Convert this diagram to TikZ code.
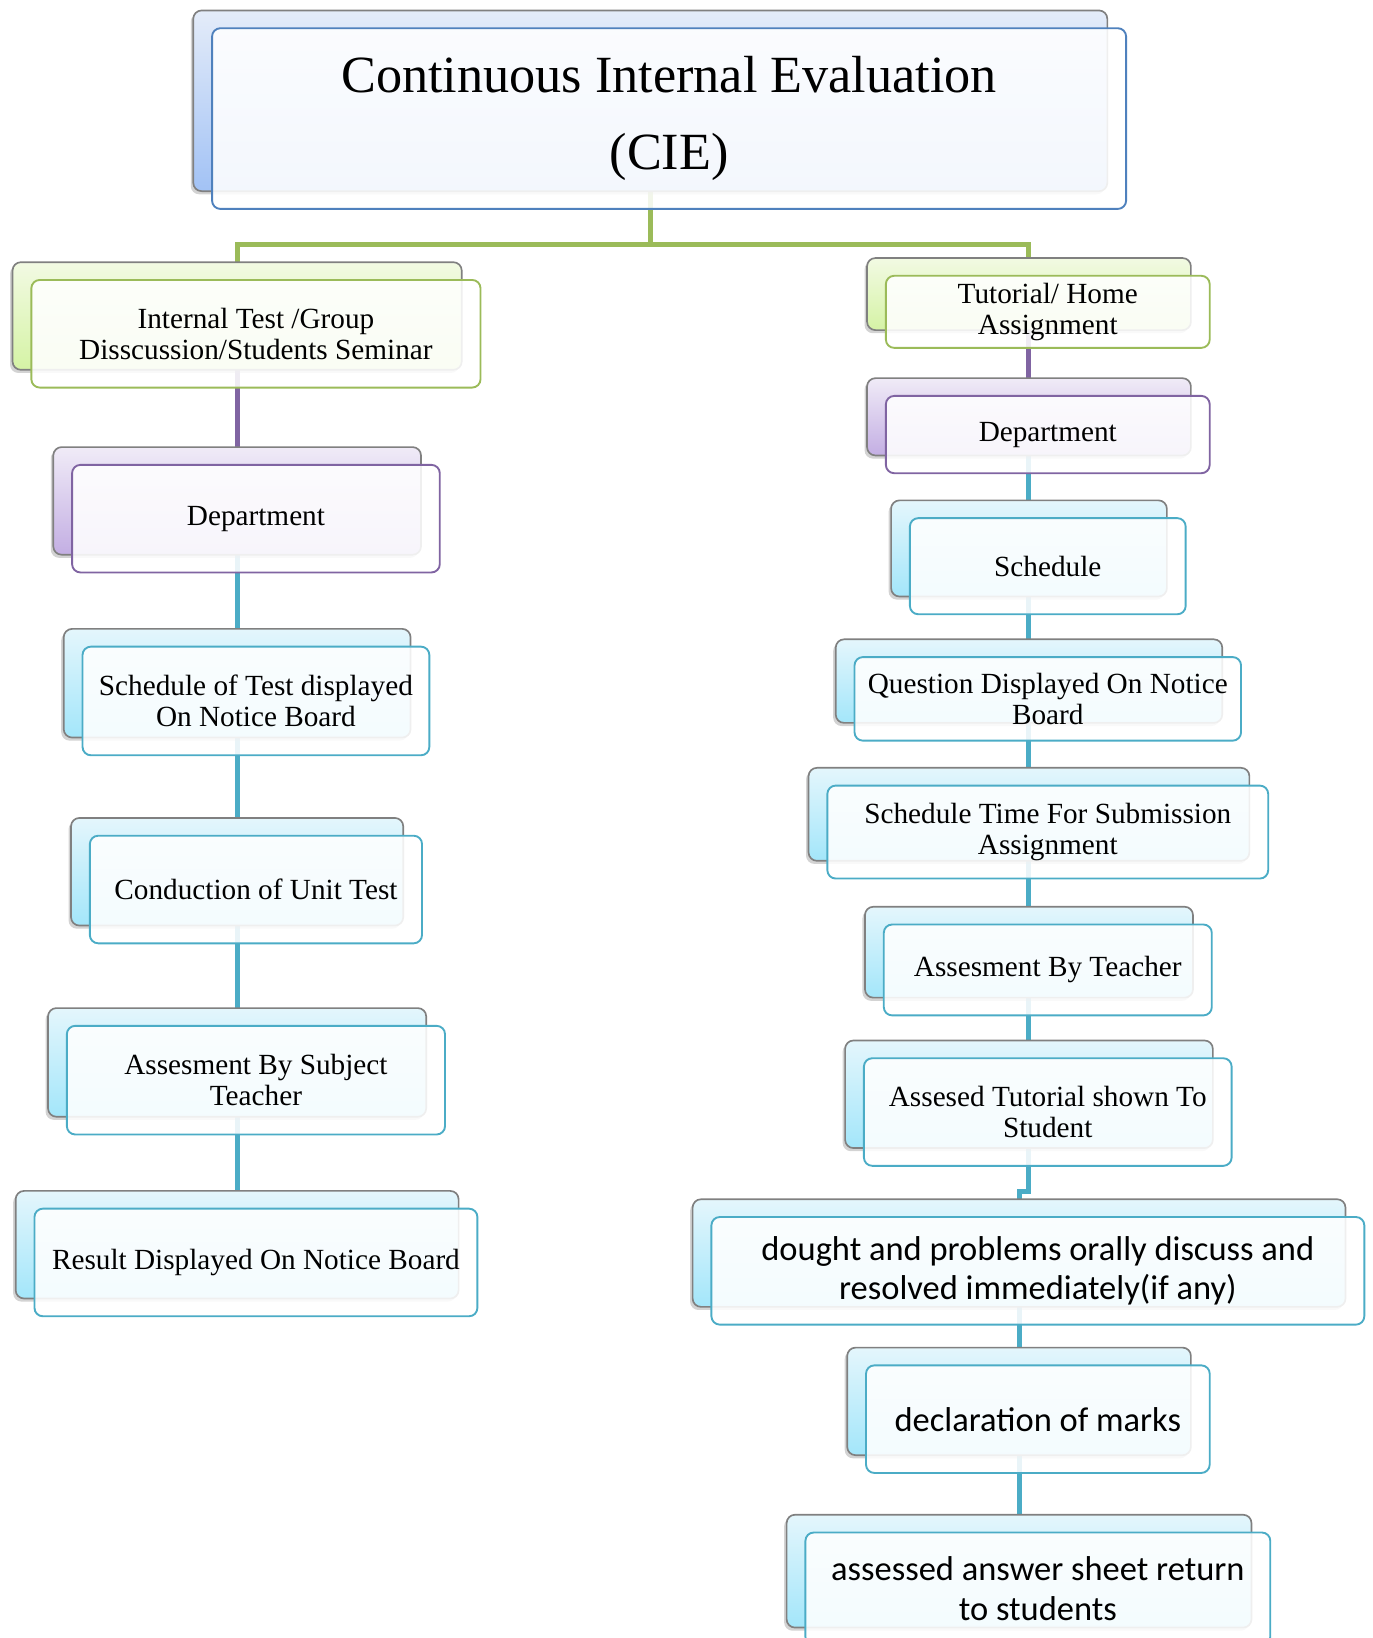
\documentclass[tikz,border=0pt]{standalone}
\usepackage{fontspec}
\setmainfont{Liberation Serif}
\newfontfamily\cbsans{Carlito}
\usetikzlibrary{shadows,calc}
\pgfdeclarelayer{bg}
\pgfsetlayers{bg,main}
\definecolor{cBlueL}{HTML}{4F81BD}
\definecolor{cBlueT}{HTML}{E4ECF9}
\definecolor{cBlueB}{HTML}{A2C2F5}
\definecolor{cGreenL}{HTML}{9BBB59}
\definecolor{cGreenT}{HTML}{F2FAE3}
\definecolor{cGreenB}{HTML}{D5F3A5}
\definecolor{cPurpL}{HTML}{8064A2}
\definecolor{cPurpT}{HTML}{F0EBF7}
\definecolor{cPurpB}{HTML}{C3AEE3}
\definecolor{cAquaL}{HTML}{4BACC6}
\definecolor{cAquaT}{HTML}{E4F6FC}
\definecolor{cAquaB}{HTML}{A3E6FA}
\tikzset{
  backbox/.style={draw=black!50, line width=0.8pt, rounded corners=4pt,
    inner sep=0pt, outer sep=0pt,
    drop shadow={shadow xshift=-1.2pt, shadow yshift=-1.5pt, opacity=0.35}},
  bkblue/.style={backbox, top color=cBlueT, bottom color=cBlueB},
  bkgreen/.style={backbox, top color=cGreenT, bottom color=cGreenB},
  bkpurp/.style={backbox, top color=cPurpT, bottom color=cPurpB},
  bkaqua/.style={backbox, top color=cAquaT, bottom color=cAquaB},
  frontbox/.style={fill=white, fill opacity=0.88, text opacity=1, line width=0.9pt,
    rounded corners=4pt, inner sep=0pt, outer sep=0pt, align=center,
    font=\fontsize{14}{15}\selectfont},
  titlefont/.style={font=\fontsize{25}{36.5}\selectfont},
  sansfont/.style={font=\cbsans\fontsize{16.5}{19}\selectfont},
  link/.style={line width=2.4pt}
}
% #1 name, #2 back style, #3 border colour, #4 x1, #5 y1, #6 x2, #7 y2, #8 extra front options, #9 text
\newcommand\cebox[9]{%
  \node[#2, minimum width={(#6-#4)*0.5pt}, minimum height={(#7-#5)*0.5pt}]
     (#1b) at ({(#4+#6)/2},{(#5+#7)/2}) {};
  \node[frontbox, draw=#3, minimum width={(#6-#4)*0.5pt}, minimum height={(#7-#5)*0.5pt}, #8]
     (#1) at ({(#4+#6)/2+18},{(#5+#7)/2+17}) {#9};
}
\begin{document}
\begin{tikzpicture}[x=0.5pt,y=-0.5pt]
\useasboundingbox (0,0) rectangle (1314,1568);
% title
\cebox{T}{bkblue}{cBlueL}{185}{10}{1060}{183}{titlefont}{Continuous Internal Evaluation\\(CIE)}
% left column
\cebox{L1}{bkgreen}{cGreenL}{12}{251}{442}{354}{}{Internal Test /Group\\Disscussion/Students Seminar}
\cebox{L2}{bkpurp}{cPurpL}{51}{428}{403}{531}{}{Department}
\cebox{L3}{bkaqua}{cAquaL}{61}{602}{393}{706}{}{Schedule of Test displayed\\On Notice Board}
\cebox{L4}{bkaqua}{cAquaL}{68}{783}{386}{886}{}{Conduction of Unit Test}
\cebox{L5}{bkaqua}{cAquaL}{46}{965}{408}{1069}{}{Assesment By Subject\\Teacher}
\cebox{L6}{bkaqua}{cAquaL}{15}{1140}{439}{1243}{}{Result Displayed On Notice Board}
% right column
\cebox{R1}{bkgreen}{cGreenL}{830}{247}{1140}{316}{}{Tutorial/ Home\\Assignment}
\cebox{R2}{bkpurp}{cPurpL}{830}{362}{1140}{436}{}{Department}
\cebox{R3}{bkaqua}{cAquaL}{853}{479}{1117}{571}{}{Schedule}
\cebox{R4}{bkaqua}{cAquaL}{800}{612}{1170}{692}{}{Question Displayed On Notice\\Board}
\cebox{R5}{bkaqua}{cAquaL}{774}{735}{1196}{824}{}{Schedule Time For Submission\\Assignment}
\cebox{R6}{bkaqua}{cAquaL}{828}{868}{1142}{955}{}{Assesment By Teacher}
\cebox{R7}{bkaqua}{cAquaL}{809}{996}{1161}{1099}{}{Assesed Tutorial shown To\\Student}
\cebox{R8}{bkaqua}{cAquaL}{663}{1148}{1288}{1251}{sansfont}{dought and problems orally discuss and\\resolved immediately(if any)}
\cebox{R9}{bkaqua}{cAquaL}{811}{1290}{1140}{1393}{sansfont}{declaration of marks}
\cebox{R10}{bkaqua}{cAquaL}{753}{1450}{1198}{1558}{sansfont}{assessed answer sheet return\\to students}
% connectors
\begin{pgfonlayer}{bg}
  \coordinate (tj) at (622.5,234);
  \coordinate (rj) at (975.5,1141);
  \draw[link, cGreenL] (Tb.south) -- (tj) -| (L1b.north);
  \draw[link, cGreenL] (tj) -| (R1b.north);
  \draw[link, cPurpL] (L1b.south) -- (L2b.north);
  \draw[link, cAquaL] (L2b.south) -- (L3b.north);
  \draw[link, cAquaL] (L3b.south) -- (L4b.north);
  \draw[link, cAquaL] (L4b.south) -- (L5b.north);
  \draw[link, cAquaL] (L5b.south) -- (L6b.north);
  \draw[link, cPurpL] (R1b.south) -- (R2b.north);
  \draw[link, cAquaL] (R2b.south) -- (R3b.north);
  \draw[link, cAquaL] (R3b.south) -- (R4b.north);
  \draw[link, cAquaL] (R4b.south) -- (R5b.north);
  \draw[link, cAquaL] (R5b.south) -- (R6b.north);
  \draw[link, cAquaL] (R6b.south) -- (R7b.north);
  \draw[link, cAquaL] (R7b.south) |- (rj) -- (R8b.north);
  \draw[link, cAquaL] (R8b.south) -- (R9b.north);
  \draw[link, cAquaL] (R9b.south) -- (R10b.north);
\end{pgfonlayer}
\end{tikzpicture}
\end{document}
